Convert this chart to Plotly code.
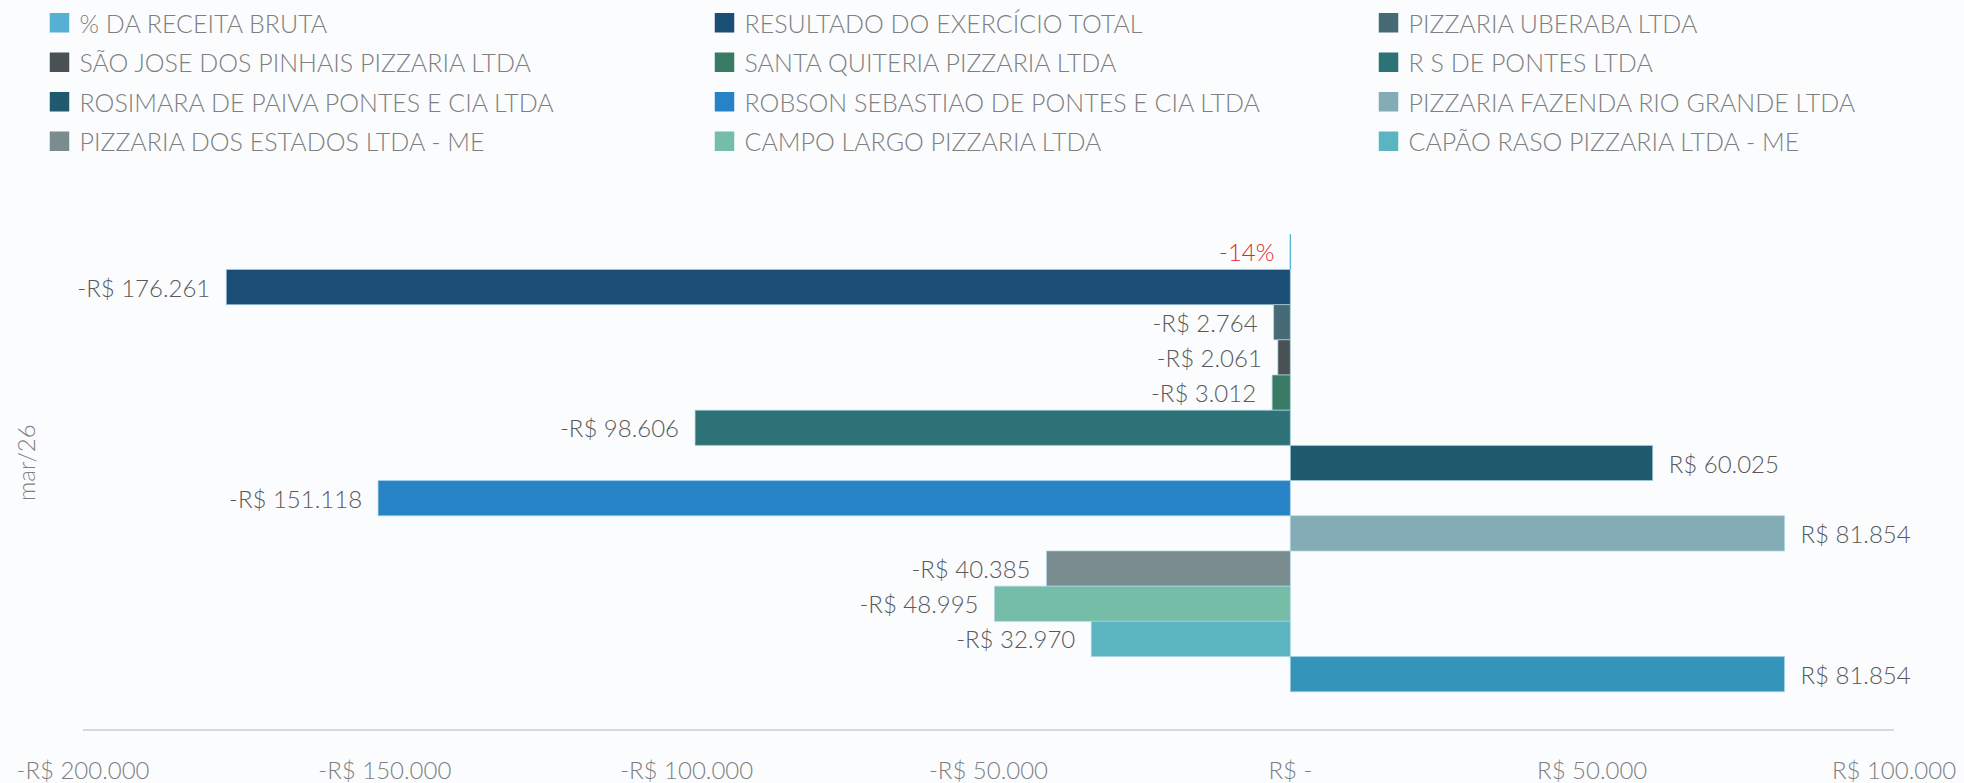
import plotly.graph_objects as go

categories = ["mar/26"]

series_names = [
    "% DA RECEITA BRUTA",
    "RESULTADO DO EXERCÍCIO TOTAL",
    "PIZZARIA UBERABA LTDA",
    "SÃO JOSE DOS PINHAIS PIZZARIA LTDA",
    "SANTA QUITERIA PIZZARIA LTDA",
    "R S DE PONTES LTDA",
    "ROSIMARA DE PAIVA PONTES E CIA LTDA",
    "ROBSON SEBASTIAO DE PONTES E CIA LTDA",
    "PIZZARIA FAZENDA RIO GRANDE LTDA",
    "PIZZARIA DOS ESTADOS LTDA - ME",
    "CAMPO LARGO PIZZARIA LTDA",
    "CAPÃO RASO PIZZARIA LTDA - ME",
    "OUTRAS",
]
series_values = [-0.14, -176261, -2764, -2061, -3012, -98606, 60025,
                 -151118, 81854, -40385, -48995, -32970, 81854]
series_colors = ["#56B0D3", "#1A4E74", "#466B76", "#4A5155", "#387A64",
                 "#2D7276", "#205A6E", "#2683C6", "#84ACB6", "#7A8C8E",
                 "#75BDA7", "#5AB5C1", "#3494BA"]
in_legend = [True] * 12 + [False]
legend_column = [0, 1, 2, 0, 1, 2, 0, 1, 2, 0, 1, 2, None]

tick_vals = [-200000, -150000, -100000, -50000, 0, 50000, 100000]
tick_text = ["-R$ 200.000", "-R$ 150.000", "-R$ 100.000", "-R$ 50.000",
             "R$ -", "R$ 50.000", "R$ 100.000"]

FONT = "Lato"
WEIGHT = 300
PAD = "\u00a0\u00a0"
BARGAP = 0.14


def fmt(name, v, pad=True):
    if name.startswith("%"):
        s = f"{round(v * 100):d}%"
    else:
        s = ("-" if v < 0 else "") + "R$ " + f"{abs(v):,.0f}".replace(",", ".")
    if not pad:
        return s
    return (s + PAD) if v < 0 else (PAD + s)


fig = go.Figure()
annotations = []
n_bars = len(series_values)
for idx, (name, val, col) in enumerate(zip(series_names, series_values, series_colors)):
    is_pct = name.startswith("%")
    fig.add_trace(go.Bar(
        x=[val], y=categories, orientation="h", name=name,
        marker=dict(color=col, line=dict(color="#56B0D3" if is_pct else "rgba(170,210,228,0.7)",
                                         width=1)),
        text=None if is_pct else [fmt(name, val)],
        textposition="none" if is_pct else "outside",
        cliponaxis=False,
        constraintext="none",
        textfont=dict(family=FONT, size=24, color="#595959", weight=WEIGHT),
        showlegend=False, hoverinfo="x+name",
    ))
    if is_pct:
        # the percentage bar is only a hair wide: its label sits left of the bar end
        slot = (1 - BARGAP) / n_bars
        annotations.append(dict(
            text=fmt(name, val, pad=False), xref="x", yref="paper",
            x=val, y=1 - (BARGAP / 2 + slot * (idx + 0.5)),
            xanchor="right", yanchor="middle", xshift=-14, showarrow=False,
            font=dict(family=FONT, size=24, color="#E0262B", weight=WEIGHT)))

legend_ids = ["legend", "legend2", "legend3"]
for i, (name, col, show, lc) in enumerate(zip(series_names, series_colors, in_legend, legend_column)):
    if not show:
        continue
    fig.add_trace(go.Scatter(
        x=[None], y=[None], mode="markers", name=name,
        marker=dict(symbol="square", size=16, color=col, line=dict(color=col, width=3.5)),
        legend=legend_ids[lc], legendgroup=f"g{i}", showlegend=True,
    ))

legend_x = [39.5, 704.5, 1368.5]
W, H = 1964, 783
leg_common = dict(orientation="v", xref="container", yref="container",
                  xanchor="left", yanchor="top", y=1.0,
                  font=dict(family=FONT, size=25, color="#7F7F7F", weight=WEIGHT),
                  bgcolor="rgba(0,0,0,0)", tracegroupgap=4, itemclick=False)

annotations.append(dict(text=categories[0], xref="paper", yref="paper",
                        x=(25 - 83) / 1811, y=0.5, xanchor="center", yanchor="middle",
                        textangle=-90, showarrow=False,
                        font=dict(family=FONT, size=24, color="#7F7F7F", weight=WEIGHT)))

fig.update_layout(
    width=W, height=H,
    paper_bgcolor="#FBFCFE", plot_bgcolor="#FBFCFE",
    margin=dict(l=83, r=70, t=197, b=54, autoexpand=False),
    barmode="group", bargap=BARGAP, bargroupgap=0,
    showlegend=True,
    legend=dict(x=legend_x[0] / W, **leg_common),
    legend2=dict(x=legend_x[1] / W, **leg_common),
    legend3=dict(x=legend_x[2] / W, **leg_common),
    xaxis=dict(range=[-200000, 100000], tickvals=tick_vals, ticktext=tick_text,
               showgrid=False, zeroline=False, showline=True, linecolor="#D9D9D9",
               linewidth=2, ticks="", ticklabelstandoff=19, tickangle=0,
               automargin=False,
               tickfont=dict(family=FONT, size=24, color="#7F7F7F", weight=WEIGHT)),
    yaxis=dict(type="category", autorange="reversed", showgrid=False, zeroline=False,
               showline=False, showticklabels=False, ticks="", automargin=False),
    annotations=annotations,
)

fig.write_html(
    "out.html",
    config={"displayModeBar": False},
    post_script="document.body.style.margin='0';document.body.style.overflow='hidden';",
)
